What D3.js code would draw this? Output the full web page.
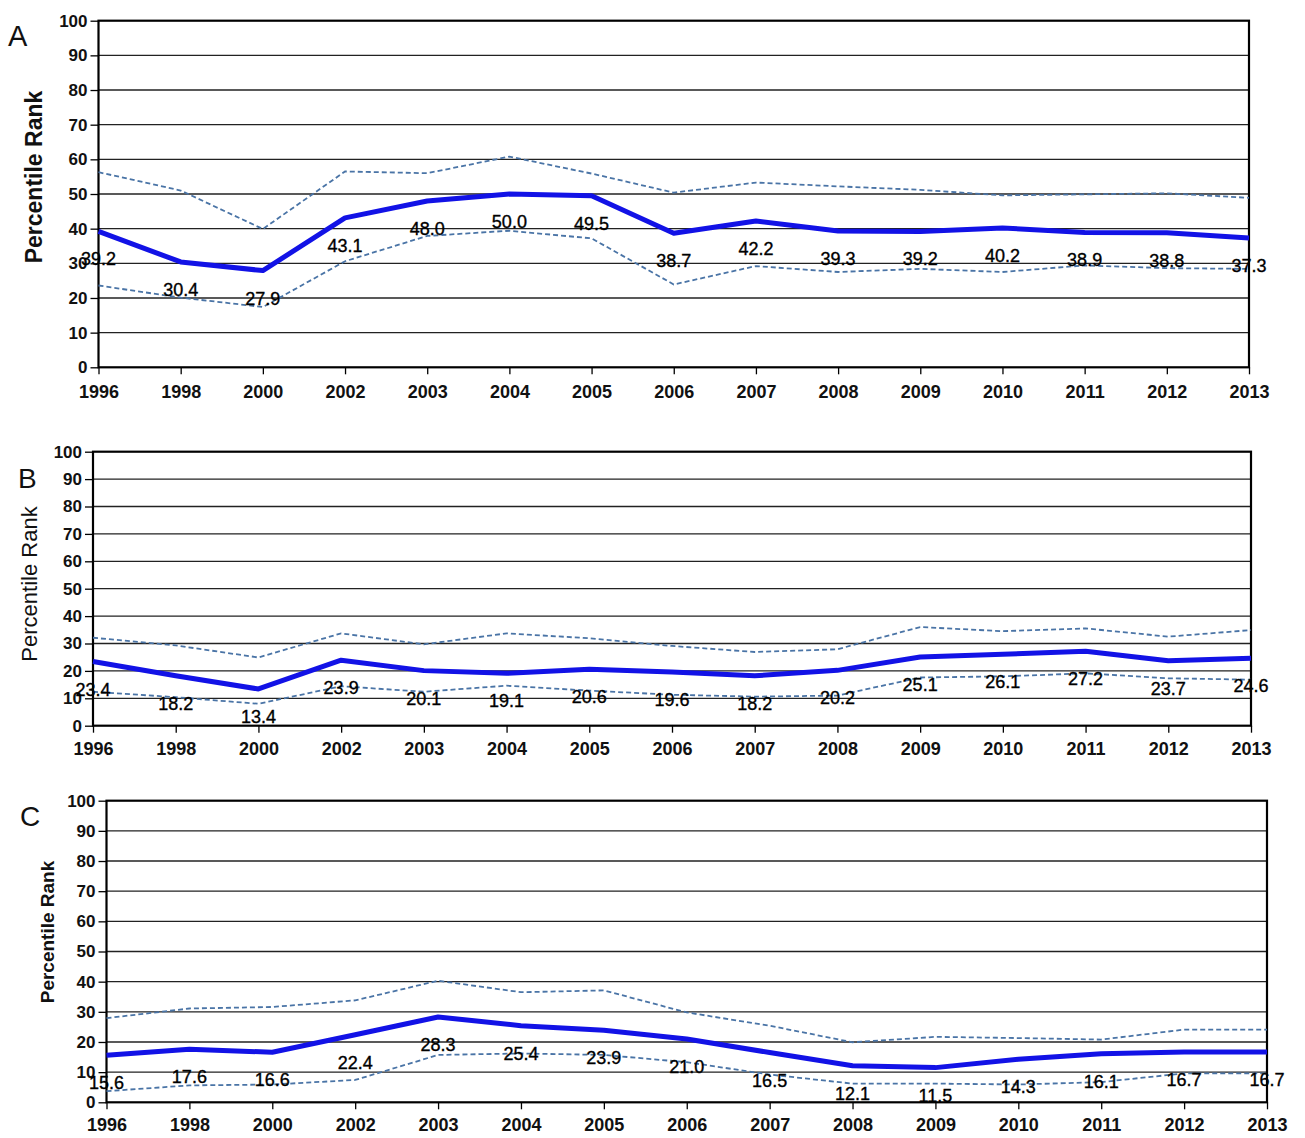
<!DOCTYPE html>
<html>
<head>
<meta charset="utf-8">
<script src="https://cdn.jsdelivr.net/npm/d3@7"></script>
<style>
  html, body { margin: 0; padding: 0; background: #fff; }
  svg { display: block; }
</style>
</head>
<body>
<svg id="chart" width="1305" height="1138"></svg>
<script>
// ---------- data ----------
const years = ["1996","1998","2000","2002","2003","2004","2005","2006","2007","2008","2009","2010","2011","2012","2013"];
const yTicks = [0,10,20,30,40,50,60,70,80,90,100];
const panelLetters = ["A","B","C"];
const yTitle = "Percentile Rank";

const aMain  = [39.2,30.4,27.9,43.1,48.0,50.0,49.5,38.7,42.2,39.3,39.2,40.2,38.9,38.8,37.3];
const aUpper = [56.3,51.0,39.9,56.5,56.0,60.8,55.9,50.4,53.3,52.2,51.2,49.6,49.9,50.2,48.9];
const aLower = [23.6,20.1,17.4,30.6,37.9,39.4,37.2,23.9,29.2,27.5,28.4,27.5,29.4,28.6,28.4];

const bMain  = [23.4,18.2,13.4,23.9,20.1,19.1,20.6,19.6,18.2,20.2,25.1,26.1,27.2,23.7,24.6];
const bUpper = [32.1,29.3,24.9,33.7,29.7,33.7,31.9,29.1,26.9,27.9,36.0,34.5,35.5,32.5,34.9];
const bLower = [12.4,10.4,8.0,14.4,12.4,14.6,12.8,11.3,10.6,11.0,17.6,18.0,19.1,17.3,16.8];

const cMain  = [15.6,17.6,16.6,22.4,28.3,25.4,23.9,21.0,16.5,12.1,11.5,14.3,16.1,16.7,16.7];
const cUpper = [27.9,31.1,31.6,33.8,40.3,36.5,37.1,29.8,25.4,19.9,21.7,21.3,20.8,24.1,24.1];
const cLower = [3.7,5.6,5.9,7.4,15.7,16.2,15.7,13.3,9.2,6.2,6.2,5.9,6.7,9.6,9.6];

// ---------- layout (per panel) ----------
const panels = [
  { letter: panelLetters[0], main: aMain, upper: aUpper, lower: aLower,
    x0: 98.5, x1: 1249, y0: 20.7, y1: 367.3,
    letterPos: [8, 46, 29], titlePos: [42, 177, 23, "bold"], xLabBase: 398, tickFont: 17, xTickFont: 18 },
  { letter: panelLetters[1], main: bMain, upper: bUpper, lower: bLower,
    x0: 93, x1: 1251, y0: 451.7, y1: 725.7,
    letterPos: [18, 488, 28], titlePos: [37, 584, 22, "normal"], xLabBase: 755, tickFont: 17, xTickFont: 18 },
  { letter: panelLetters[2], main: cMain, upper: cUpper, lower: cLower,
    x0: 106.5, x1: 1267, y0: 800.7, y1: 1102.3,
    letterPos: [20, 826, 28], titlePos: [54, 932, 19, "bold"], xLabBase: 1131, tickFont: 17, xTickFont: 18 }
];

const FONT = "'Liberation Sans', Arial, sans-serif";
const MAIN_COLOR = "#1212e6";
const DASH_COLOR = "#4a74a6";

const svg = d3.select("#chart");

panels.forEach(p => {
  const g = svg.append("g");
  const x = d3.scalePoint().domain(years).range([p.x0, p.x1]).padding(0);
  const y = d3.scaleLinear().domain([0, 100]).range([p.y1, p.y0]);

  // gridlines
  g.append("g").selectAll("line").data(yTicks.filter(t => t > 0 && t < 100)).join("line")
    .attr("x1", p.x0).attr("x2", p.x1)
    .attr("y1", d => y(d)).attr("y2", d => y(d))
    .attr("stroke", "#222").attr("stroke-width", 1.3);

  // frame
  g.append("rect")
    .attr("x", p.x0).attr("y", p.y0)
    .attr("width", p.x1 - p.x0).attr("height", p.y1 - p.y0)
    .attr("fill", "none").attr("stroke", "#000").attr("stroke-width", 2.2);

  // y axis
  const yAxis = d3.axisLeft(y).tickValues(yTicks).tickSize(8).tickPadding(3).tickSizeOuter(0);
  const ya = g.append("g").attr("transform", `translate(${p.x0},0)`).call(yAxis);
  ya.select(".domain").remove();
  ya.selectAll(".tick line").attr("stroke", "#000").attr("stroke-width", 1.3);
  ya.selectAll(".tick text")
    .attr("font-family", FONT).attr("font-size", p.tickFont).attr("font-weight", "bold")
    .attr("fill", "#111");

  // x axis
  const xAxis = d3.axisBottom(x).tickSize(7).tickPadding(8).tickSizeOuter(0);
  const xa = g.append("g").attr("transform", `translate(0,${p.y1})`).call(xAxis);
  xa.select(".domain").remove();
  xa.selectAll(".tick line").attr("stroke", "#000").attr("stroke-width", 1.3);
  xa.selectAll(".tick text")
    .attr("font-family", FONT).attr("font-size", p.xTickFont).attr("font-weight", "bold")
    .attr("fill", "#111")
    .attr("dy", null)
    .attr("y", p.xLabBase - p.y1);

  const line = d3.line().x((d, i) => x(years[i])).y(d => y(d));

  // dashed bounds
  [p.upper, p.lower].forEach(s => {
    g.append("path").datum(s)
      .attr("d", line)
      .attr("fill", "none")
      .attr("stroke", DASH_COLOR)
      .attr("stroke-width", 1.8)
      .attr("stroke-dasharray", "5,3");
  });

  // main line
  g.append("path").datum(p.main)
    .attr("d", line)
    .attr("fill", "none")
    .attr("stroke", MAIN_COLOR)
    .attr("stroke-width", 5)
    .attr("stroke-linejoin", "round");

  // data labels
  g.append("g").selectAll("text").data(p.main).join("text")
    .attr("x", (d, i) => x(years[i]))
    .attr("y", d => y(d) + 34)
    .attr("text-anchor", "middle")
    .attr("font-family", FONT).attr("font-size", 18)
    .attr("fill", "#000")
    .attr("stroke", "#000").attr("stroke-width", 0.35)
    .text(d => d.toFixed(1));

  // panel letter
  g.append("text")
    .attr("x", p.letterPos[0]).attr("y", p.letterPos[1])
    .attr("font-family", FONT).attr("font-size", p.letterPos[2])
    .attr("fill", "#111")
    .text(p.letter);

  // y title
  g.append("text")
    .attr("transform", `translate(${p.titlePos[0]},${p.titlePos[1]}) rotate(-90)`)
    .attr("text-anchor", "middle")
    .attr("font-family", FONT).attr("font-size", p.titlePos[2])
    .attr("font-weight", p.titlePos[3])
    .attr("fill", "#111")
    .text(yTitle);
});
</script>
</body>
</html>
